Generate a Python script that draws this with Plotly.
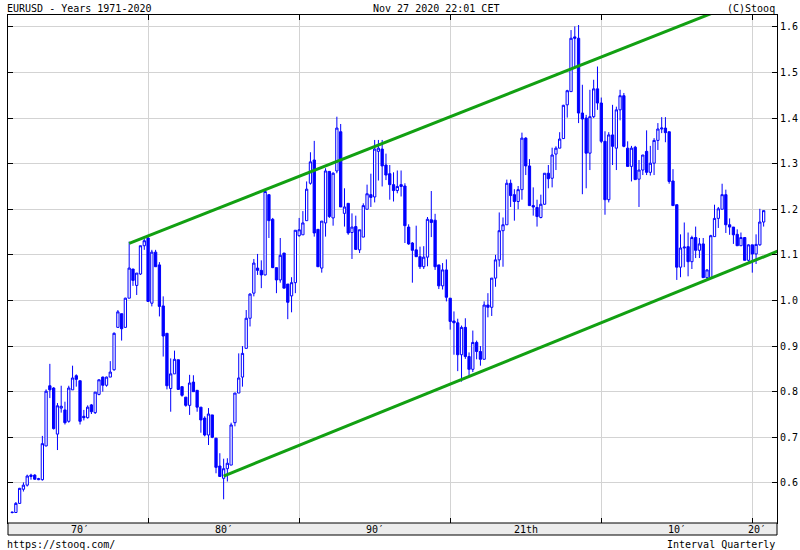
import pandas as pd
import plotly.graph_objects as go

# Quarterly EURUSD candles, 1971 Q1 .. 2020 Q4
quarters = pd.date_range("1971-01-01", periods=200, freq="QS")

opens = [
    0.536, 0.535, 0.555, 0.586, 0.595, 0.614, 0.617, 0.607, 0.607, 0.681,
    0.813, 0.808, 0.707, 0.764, 0.760, 0.735, 0.804, 0.835, 0.824, 0.746,
    0.743, 0.771, 0.754, 0.794, 0.832, 0.814, 0.832, 0.848, 0.941, 0.971,
    0.941, 1.005, 1.069, 1.033, 1.058, 1.120, 1.137, 0.994, 1.106, 1.078,
    0.988, 0.928, 0.807, 0.839, 0.870, 0.811, 0.788, 0.770, 0.821, 0.803,
    0.766, 0.742, 0.705, 0.749, 0.698, 0.637, 0.610, 0.631, 0.639, 0.732,
    0.797, 0.832, 0.895, 0.961, 1.016, 1.071, 1.066, 1.056, 1.232, 1.178,
    1.072, 1.045, 1.104, 1.036, 1.010, 1.039, 1.142, 1.144, 1.175, 1.257,
    1.308, 1.156, 1.071, 1.170, 1.283, 1.181, 1.284, 1.370, 1.191, 1.213,
    1.149, 1.162, 1.111, 1.139, 1.200, 1.232, 1.227, 1.327, 1.332, 1.297,
    1.278, 1.254, 1.241, 1.254, 1.251, 1.161, 1.126, 1.111, 1.096, 1.074,
    1.095, 1.177, 1.176, 1.078, 1.032, 1.067, 1.005, 0.955, 0.951, 0.881,
    0.941, 0.877, 0.849, 0.908, 0.888, 0.871, 0.990, 0.985, 1.049, 1.089,
    1.153, 1.166, 1.257, 1.232, 1.217, 1.243, 1.356, 1.295, 1.208, 1.204,
    1.182, 1.211, 1.279, 1.268, 1.321, 1.334, 1.355, 1.429, 1.458, 1.578,
    1.575, 1.411, 1.400, 1.323, 1.403, 1.464, 1.433, 1.349, 1.221, 1.363,
    1.334, 1.418, 1.449, 1.334, 1.294, 1.336, 1.266, 1.286, 1.327, 1.281,
    1.301, 1.351, 1.376, 1.378, 1.370, 1.262, 1.210, 1.073, 1.115, 1.118,
    1.085, 1.138, 1.110, 1.124, 1.050, 1.050, 1.140, 1.180, 1.200, 1.232,
    1.166, 1.161, 1.145, 1.120, 1.138, 1.088, 1.122, 1.102, 1.122, 1.172,
]
highs = [
    0.537, 0.558, 0.589, 0.601, 0.618, 0.620, 0.619, 0.611, 0.703, 0.805,
    0.861, 0.810, 0.775, 0.813, 0.778, 0.813, 0.857, 0.838, 0.824, 0.760,
    0.770, 0.773, 0.799, 0.827, 0.833, 0.833, 0.867, 0.930, 0.979, 0.971,
    1.006, 1.129, 1.069, 1.060, 1.120, 1.135, 1.139, 1.111, 1.111, 1.084,
    1.009, 0.928, 0.873, 0.890, 0.870, 0.811, 0.788, 0.837, 0.836, 0.803,
    0.766, 0.746, 0.764, 0.749, 0.698, 0.665, 0.653, 0.654, 0.732, 0.797,
    0.884, 0.900, 0.979, 1.016, 1.091, 1.102, 1.088, 1.239, 1.232, 1.181,
    1.072, 1.137, 1.104, 1.036, 1.051, 1.154, 1.181, 1.196, 1.261, 1.325,
    1.350, 1.156, 1.174, 1.290, 1.284, 1.281, 1.403, 1.387, 1.246, 1.213,
    1.191, 1.186, 1.155, 1.213, 1.254, 1.278, 1.352, 1.352, 1.352, 1.322,
    1.297, 1.281, 1.285, 1.285, 1.257, 1.167, 1.128, 1.164, 1.118, 1.119,
    1.183, 1.240, 1.190, 1.078, 1.082, 1.090, 1.005, 0.976, 0.960, 0.945,
    0.961, 0.886, 0.934, 0.912, 0.900, 0.998, 1.016, 1.049, 1.100, 1.193,
    1.182, 1.265, 1.265, 1.244, 1.251, 1.368, 1.358, 1.310, 1.248, 1.221,
    1.232, 1.279, 1.297, 1.335, 1.338, 1.369, 1.429, 1.462, 1.593, 1.601,
    1.604, 1.473, 1.407, 1.462, 1.484, 1.513, 1.445, 1.371, 1.369, 1.429,
    1.425, 1.462, 1.455, 1.349, 1.339, 1.339, 1.308, 1.319, 1.373, 1.339,
    1.356, 1.389, 1.402, 1.402, 1.370, 1.288, 1.210, 1.145, 1.171, 1.149,
    1.142, 1.162, 1.137, 1.137, 1.068, 1.144, 1.210, 1.205, 1.256, 1.243,
    1.180, 1.161, 1.156, 1.149, 1.138, 1.123, 1.122, 1.145, 1.201, 1.197,
]
lows = [
    0.533, 0.534, 0.554, 0.581, 0.592, 0.607, 0.607, 0.606, 0.605, 0.680,
    0.786, 0.717, 0.672, 0.754, 0.728, 0.732, 0.804, 0.811, 0.728, 0.737,
    0.741, 0.751, 0.751, 0.792, 0.800, 0.811, 0.832, 0.846, 0.941, 0.912,
    0.941, 1.005, 1.032, 1.012, 1.056, 1.111, 0.998, 0.987, 1.074, 0.965,
    0.877, 0.805, 0.756, 0.839, 0.804, 0.789, 0.767, 0.749, 0.800, 0.756,
    0.710, 0.702, 0.683, 0.698, 0.621, 0.614, 0.564, 0.603, 0.639, 0.724,
    0.797, 0.811, 0.895, 0.943, 1.009, 1.056, 1.027, 1.055, 1.137, 1.071,
    1.016, 1.039, 1.027, 0.959, 0.974, 1.016, 1.140, 1.144, 1.175, 1.254,
    1.140, 1.074, 1.061, 1.140, 1.181, 1.164, 1.279, 1.205, 1.162, 1.144,
    1.091, 1.112, 1.104, 1.139, 1.200, 1.205, 1.215, 1.263, 1.250, 1.264,
    1.221, 1.217, 1.235, 1.228, 1.126, 1.122, 1.039, 1.096, 1.069, 1.069,
    1.075, 1.139, 1.067, 1.025, 1.024, 0.998, 0.936, 0.881, 0.845, 0.822,
    0.872, 0.832, 0.843, 0.871, 0.857, 0.871, 0.963, 0.966, 1.030, 1.074,
    1.074, 1.166, 1.205, 1.175, 1.200, 1.221, 1.275, 1.208, 1.186, 1.162,
    1.180, 1.210, 1.246, 1.248, 1.286, 1.334, 1.355, 1.401, 1.458, 1.509,
    1.389, 1.233, 1.246, 1.286, 1.400, 1.418, 1.345, 1.188, 1.215, 1.297,
    1.286, 1.395, 1.336, 1.294, 1.261, 1.265, 1.205, 1.275, 1.275, 1.274,
    1.275, 1.330, 1.367, 1.347, 1.256, 1.208, 1.045, 1.051, 1.073, 1.053,
    1.069, 1.093, 1.093, 1.050, 1.044, 1.049, 1.140, 1.159, 1.200, 1.148,
    1.144, 1.124, 1.120, 1.120, 1.088, 1.085, 1.061, 1.080, 1.120, 1.162,
]
closes = [
    0.535, 0.555, 0.588, 0.595, 0.615, 0.617, 0.608, 0.609, 0.686, 0.801,
    0.804, 0.719, 0.769, 0.768, 0.732, 0.808, 0.830, 0.827, 0.735, 0.743,
    0.766, 0.756, 0.799, 0.826, 0.814, 0.832, 0.843, 0.928, 0.975, 0.938,
    1.005, 1.071, 1.044, 1.060, 1.120, 1.131, 0.998, 1.106, 1.074, 0.987,
    0.922, 0.813, 0.839, 0.871, 0.805, 0.792, 0.770, 0.819, 0.800, 0.766,
    0.738, 0.705, 0.751, 0.700, 0.634, 0.614, 0.631, 0.643, 0.727, 0.797,
    0.830, 0.884, 0.961, 1.014, 1.082, 1.066, 1.056, 1.239, 1.175, 1.072,
    1.045, 1.099, 1.027, 0.996, 1.039, 1.154, 1.155, 1.170, 1.244, 1.304,
    1.148, 1.074, 1.174, 1.284, 1.184, 1.279, 1.378, 1.205, 1.205, 1.148,
    1.161, 1.112, 1.155, 1.208, 1.234, 1.226, 1.332, 1.334, 1.295, 1.275,
    1.254, 1.241, 1.250, 1.250, 1.164, 1.124, 1.110, 1.096, 1.074, 1.095,
    1.178, 1.171, 1.074, 1.032, 1.067, 1.007, 0.954, 0.951, 0.881, 0.941,
    0.877, 0.849, 0.908, 0.888, 0.871, 0.990, 0.985, 1.049, 1.089, 1.153,
    1.166, 1.257, 1.230, 1.217, 1.243, 1.356, 1.295, 1.208, 1.205, 1.184,
    1.211, 1.279, 1.267, 1.319, 1.334, 1.354, 1.428, 1.460, 1.575, 1.575,
    1.411, 1.398, 1.323, 1.403, 1.464, 1.433, 1.349, 1.221, 1.363, 1.338,
    1.418, 1.449, 1.338, 1.294, 1.334, 1.265, 1.286, 1.319, 1.281, 1.301,
    1.351, 1.376, 1.378, 1.368, 1.261, 1.208, 1.073, 1.115, 1.117, 1.085,
    1.138, 1.110, 1.124, 1.050, 1.067, 1.142, 1.180, 1.201, 1.232, 1.166,
    1.161, 1.144, 1.120, 1.138, 1.088, 1.122, 1.102, 1.123, 1.172, 1.197,
]

# Trend channel anchors (date, price)
upper_dates = ["1978-10-01", "2017-06-01"]
upper_vals = [1.125, 1.631]
lower_dates = ["1985-01-01", "2023-03-01"]
lower_vals = [0.615, 1.128]

y_ticks = [0.6, 0.7, 0.8, 0.9, 1.0, 1.1, 1.2, 1.3, 1.4, 1.5, 1.6]
grid_dates = ["1980-01-01", "1990-01-01", "2000-01-01", "2010-01-01", "2020-01-01"]
decade_labels = ["70\u2032", "80\u2032", "90\u2032", "21th", "10\u2032", "20\u2032"]
decade_pos = ["1975-07-01", "1985-01-01", "1995-01-01", "2005-01-01", "2015-01-01", "2020-05-01"]

BLUE = "#0000ff"
GREEN = "#12a012"
GRID = "#d3d3d3"
FONT = "DejaVu Sans Mono"

fig = go.Figure()
fig.add_trace(go.Candlestick(
    x=quarters, open=opens, high=highs, low=lows, close=closes,
    increasing=dict(line=dict(color=BLUE, width=1), fillcolor="#ffffff"),
    decreasing=dict(line=dict(color=BLUE, width=1), fillcolor=BLUE),
    whiskerwidth=0, hoverinfo="skip", showlegend=False,
))
fig.add_trace(go.Scatter(x=upper_dates, y=upper_vals, mode="lines",
                         line=dict(color=GREEN, width=3), hoverinfo="skip", showlegend=False))
fig.add_trace(go.Scatter(x=lower_dates, y=lower_vals, mode="lines",
                         line=dict(color=GREEN, width=3), hoverinfo="skip", showlegend=False))

PLOT_W = 800 - 8 - 23
PLOT_H = 550 - 15 - 27

fig.update_layout(
    width=800, height=550,
    margin=dict(l=8, r=23, t=15, b=27, pad=0, autoexpand=False),
    paper_bgcolor="white", plot_bgcolor="white",
    boxgap=0.12,
    showlegend=False,
    font=dict(family=FONT, size=10, color="black"),
    xaxis=dict(
        type="date", range=["1970-09-23", "2021-08-20"],
        rangeslider=dict(visible=False),
        tickvals=grid_dates, showticklabels=False,
        showgrid=True, gridcolor=GRID, gridwidth=1,
        ticks="inside", ticklen=5, tickcolor="black", tickwidth=1,
        showline=True, linecolor="black", linewidth=1, mirror="ticks",
        zeroline=False, fixedrange=True, automargin=False,
    ),
    yaxis=dict(
        side="right", range=[0.512, 1.626],
        tickvals=y_ticks, tickformat=".1f",
        showgrid=True, gridcolor=GRID, gridwidth=1,
        ticks="inside", ticklen=5, tickcolor="black", tickwidth=1,
        showline=True, linecolor="black", linewidth=1, mirror="ticks",
        zeroline=False, fixedrange=True, automargin=False,
        tickfont=dict(family=FONT, size=10, color="black"),
    ),
    shapes=[
        dict(type="rect", xref="paper", yref="paper", x0=0, x1=1,
             y0=-12 / PLOT_H, y1=0, fillcolor="#ececec",
             line=dict(color="black", width=1), layer="above"),
    ],
)

annotations = []
for lab, pos in zip(decade_labels, decade_pos):
    annotations.append(dict(text=lab, x=pos, xref="x", y=-6 / PLOT_H, yref="paper",
                            showarrow=False, xanchor="center", yanchor="middle",
                            font=dict(family=FONT, size=10, color="black")))
annotations += [
    dict(text="EURUSD - Years 1971-2020", x=-3 / PLOT_W, xref="paper", y=1 + 6.5 / PLOT_H,
         yref="paper", xanchor="left", yanchor="middle", showarrow=False),
    dict(text="Nov 27 2020 22:01 CET", x=(435.5 - 8) / PLOT_W, xref="paper", y=1 + 6.5 / PLOT_H,
         yref="paper", xanchor="center", yanchor="middle", showarrow=False),
    dict(text="(C)Stooq", x=1, xref="paper", y=1 + 6.5 / PLOT_H, yref="paper",
         xanchor="right", yanchor="middle", showarrow=False),
    dict(text="https://stooq.com/", x=-3 / PLOT_W, xref="paper", y=-21 / PLOT_H, yref="paper",
         xanchor="left", yanchor="middle", showarrow=False),
    dict(text="Interval Quarterly", x=1, xref="paper", y=-21 / PLOT_H, yref="paper",
         xanchor="right", yanchor="middle", showarrow=False),
]
for a in annotations:
    a.setdefault("font", dict(family=FONT, size=10, color="black"))
fig.update_layout(annotations=annotations)

fig.write_html(
    "out.html",
    config={"displayModeBar": False},
    post_script="document.body.style.margin='0px';document.body.style.padding='0px';",
)
